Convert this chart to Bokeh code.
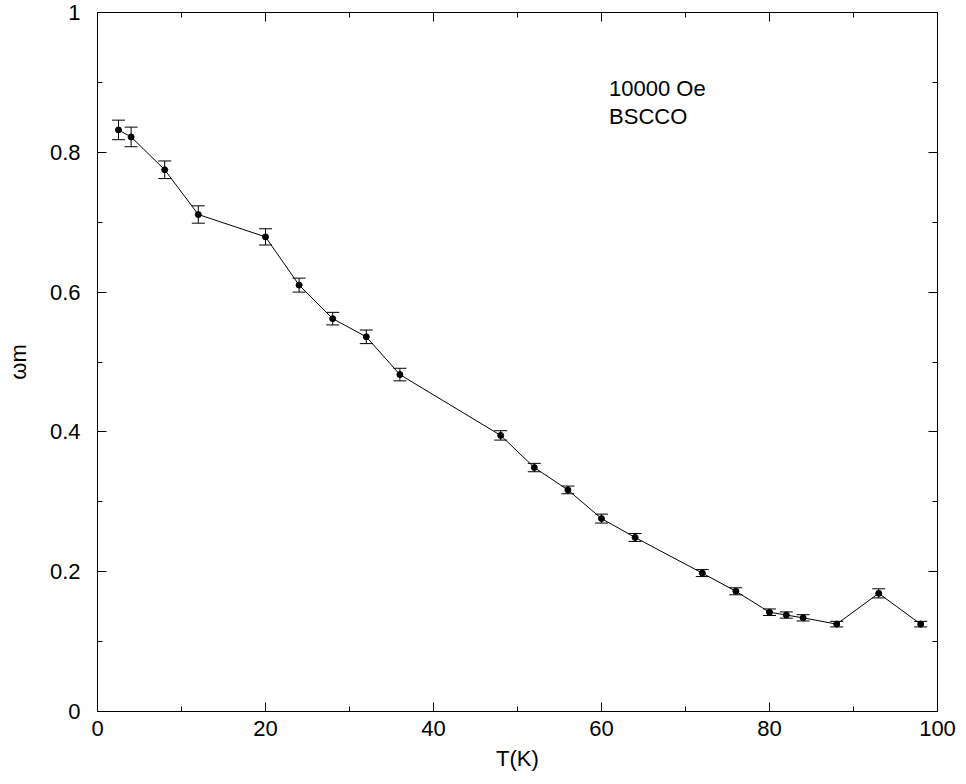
from bokeh.plotting import figure
from bokeh.models import (ColumnDataSource, Whisker, TeeHead, LinearAxis, Range1d,
                          SingleIntervalTicker, CustomJSTickFormatter, Label)
from bokeh.embed import file_html
from bokeh.resources import INLINE

# Data
temperature = [2.5, 4, 8, 12, 20, 24, 28, 32, 36, 48, 52, 56, 60, 64, 72, 76, 80, 82, 84, 88, 93, 98]
omega_m = [0.832, 0.822, 0.775, 0.711, 0.679, 0.610, 0.562, 0.536, 0.482, 0.395, 0.349, 0.317,
           0.276, 0.249, 0.198, 0.172, 0.142, 0.138, 0.134, 0.125, 0.169, 0.125]
error = [0.014, 0.014, 0.0126, 0.0124, 0.0116, 0.010, 0.009, 0.0097, 0.009, 0.0067, 0.006, 0.0055,
         0.0064, 0.0057, 0.005, 0.005, 0.0047, 0.0045, 0.0045, 0.004, 0.0065, 0.004]
annotation_lines = ["10000 Oe", "BSCCO"]
x_label = "T(K)"
y_label = "\u03c9m"

FONT = "Liberation Sans"

src = ColumnDataSource(dict(
    x=temperature, y=omega_m,
    upper=[v + e for v, e in zip(omega_m, error)],
    lower=[v - e for v, e in zip(omega_m, error)],
))

p = figure(width=958, height=776, output_backend="svg", toolbar_location=None,
           x_range=Range1d(0, 100), y_range=Range1d(0, 1),
           x_axis_location=None, y_axis_location=None,
           min_border_left=97, min_border_top=12, min_border_right=21, min_border_bottom=65)
p.grid.visible = False
p.outline_line_color = "black"
p.outline_line_width = 1
p.background_fill_color = "white"
p.border_fill_color = "white"

fmt_y = CustomJSTickFormatter(code="return String(Math.round(tick*10)/10);")
fmt_blank = CustomJSTickFormatter(code="return '';")


def make_axis(kind, labels):
    ax = LinearAxis()
    if kind == "x":
        ax.ticker = SingleIntervalTicker(interval=20, num_minor_ticks=2)
    else:
        ax.ticker = SingleIntervalTicker(interval=0.2, num_minor_ticks=2)
        ax.formatter = fmt_y
    ax.major_tick_in = 9
    ax.major_tick_out = 0
    ax.minor_tick_in = 5
    ax.minor_tick_out = 0
    ax.axis_line_color = "black"
    ax.major_tick_line_color = "black"
    ax.minor_tick_line_color = "black"
    ax.major_label_text_font = FONT
    ax.major_label_text_font_size = "22px"
    ax.major_label_text_color = "black"
    if labels:
        ax.axis_label_text_font = FONT
        ax.axis_label_text_font_size = "22px"
        ax.axis_label_text_font_style = "normal"
        ax.axis_label_text_color = "black"
    else:
        ax.formatter = fmt_blank
        ax.major_label_standoff = 0
        ax.axis_label = None
    return ax


xb = make_axis("x", True)
xb.axis_label = x_label
xb.major_label_standoff = 9
xb.axis_label_standoff = 7
p.add_layout(xb, "below")

yl = make_axis("y", True)
yl.axis_label = y_label
yl.major_label_standoff = 17
yl.axis_label_standoff = 16
p.add_layout(yl, "left")

p.add_layout(make_axis("x", False), "above")
p.add_layout(make_axis("y", False), "right")

p.line("x", "y", source=src, line_color="black", line_width=1)
p.add_layout(Whisker(source=src, base="x", upper="upper", lower="lower",
                     line_color="black", line_width=1,
                     upper_head=TeeHead(size=13, line_color="black", line_width=1),
                     lower_head=TeeHead(size=13, line_color="black", line_width=1)))
p.scatter("x", "y", source=src, size=6, color="black", marker="circle")

for txt, yy in zip(annotation_lines, [0.891, 0.851]):
    p.add_layout(Label(x=60.9, y=yy, text=txt, text_font=FONT, text_font_size="22px",
                       text_color="black", text_baseline="alphabetic"))

open("out.html", "w").write(file_html(p, INLINE))
